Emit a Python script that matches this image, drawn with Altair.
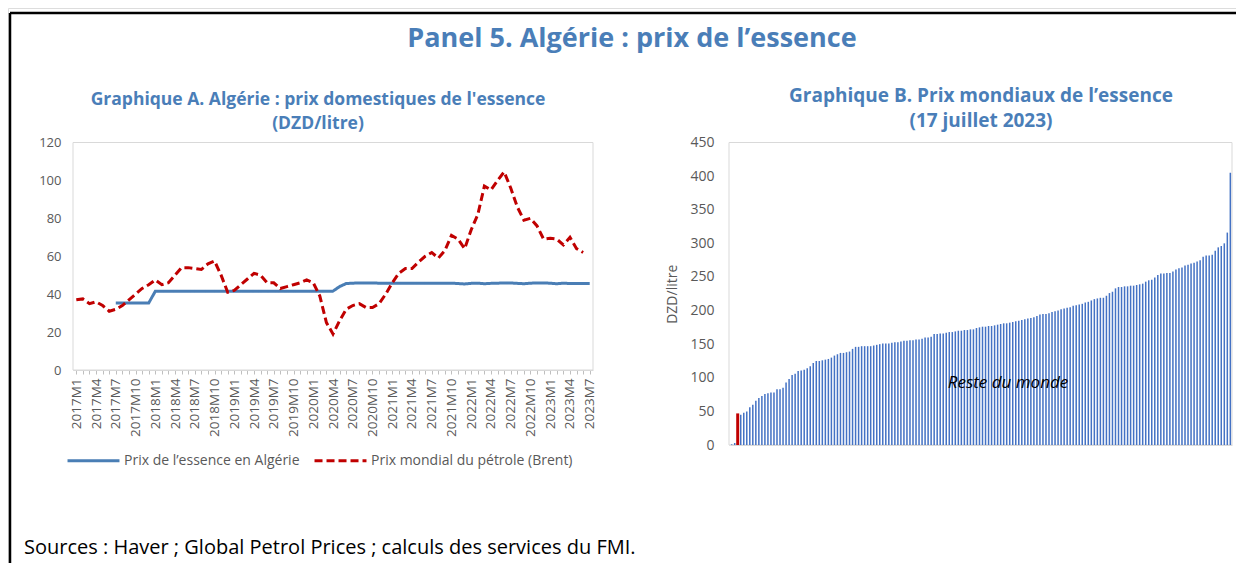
import altair as alt
import pandas as pd

# ---------------- Data ----------------
annees = [2017, 2018, 2019, 2020, 2021, 2022, 2023]
mois = [f"{a}M{m}" for a in annees for m in range(1, 13)][:79]  # 2017M1 .. 2023M7

serie_algerie = "Prix de l’essence en Algérie"
serie_brent = "Prix mondial du pétrole (Brent)"

prix_algerie = [
    None, None, None, None, None, None, 35.3, 35.3, 35.3, 35.3, 35.3, 35.3,
    41.5, 41.5, 41.5, 41.5, 41.5, 41.5, 41.5, 41.5, 41.5, 41.5, 41.5, 41.5,
    41.5, 41.5, 41.5, 41.5, 41.5, 41.5, 41.5, 41.5, 41.5, 41.5, 41.5, 41.5,
    41.5, 41.5, 41.5, 41.6, 44.0, 45.6, 45.8, 45.9, 45.9, 45.9, 45.8, 45.8,
    45.8, 45.8, 45.8, 45.8, 45.8, 45.8, 45.8, 45.8, 45.8, 45.8, 45.6, 45.4,
    45.7, 45.8, 45.5, 45.7, 45.8, 45.9, 45.9, 45.7, 45.5, 45.8, 45.9, 45.9,
    45.8, 45.5, 45.8, 45.6, 45.6, 45.6, 45.6,
]
prix_brent = [
    37, 37.5, 35, 36, 34, 31, 32, 34, 37, 40, 43, 45,
    47.5, 45, 46, 50, 54, 54, 53.5, 53, 56, 57.5, 50, 41,
    42, 45, 48, 51, 50, 46, 46, 43, 44, 45, 46, 47.5,
    46, 39, 25, 19, 26, 32, 34, 35, 33, 33, 35, 40,
    46, 51, 53.5, 53.5, 57, 60, 62, 59, 63, 71, 69, 64,
    74, 82, 97, 95, 100, 104.5, 96, 86, 79, 80, 76, 69,
    69.5, 69, 66, 70, 64, 62, None,
]

# Prix mondiaux de l'essence (DZD/litre), triés ; Algérie en 3e position
prix_monde = [
    1, 3, 47, 45, 48, 50, 56, 60, 66, 70, 73, 76, 77, 78, 78, 83, 83, 85, 93, 98,
    104, 106, 110, 111, 112, 114, 117, 122, 125, 125, 126, 127, 128, 130, 133, 135,
    137, 137, 138, 139, 143, 146, 146, 147, 147, 147, 147, 148, 149, 150, 151, 151,
    151, 152, 153, 153, 154, 155, 155, 156, 156, 157, 157, 158, 160, 160, 161, 165,
    165, 166, 166, 167, 168, 168, 169, 170, 170, 171, 171, 172, 172, 174, 175, 176,
    176, 177, 177, 178, 179, 180, 181, 181, 182, 183, 184, 185, 186, 187, 188, 189,
    190, 192, 194, 195, 195, 196, 198, 199, 200, 202, 203, 204, 205, 207, 208, 209,
    210, 212, 213, 215, 217, 218, 219, 219, 222, 226, 228, 233, 235, 235, 236, 236,
    237, 237, 238, 239, 240, 243, 245, 246, 249, 253, 255, 255, 256, 256, 258, 261,
    263, 264, 267, 268, 270, 271, 273, 275, 280, 282, 282, 283, 289, 294, 296, 300,
    316, 405,
]
rang_algerie = 3

titre_panel = ["Panel 5. Algérie : prix de l’essence"]
titre_a = ["Graphique A. Algérie : prix domestiques de l'essence\n(DZD/litre)"]
titre_b = ["Graphique B. Prix mondiaux de l’essence\n(17 juillet 2023)"]
note_monde = ["Reste du monde"]
sources = ["Sources : Haver ; Global Petrol Prices ; calculs des services du FMI."]
y_ticks_a = [0, 20, 40, 60, 80, 100, 120]
y_ticks_b = [0, 50, 100, 150, 200, 250, 300, 350, 400, 450]

# ---------------- Tables ----------------
df_lignes = pd.DataFrame({
    "mois": mois + mois,
    "serie": [serie_algerie] * len(mois) + [serie_brent] * len(mois),
    "valeur": prix_algerie + prix_brent,
})
df_barres = pd.DataFrame({
    "rang": list(range(1, len(prix_monde) + 1)),
    "valeur": prix_monde,
})
df_barres["groupe"] = ["Algérie" if r == rang_algerie else "Reste du monde" for r in df_barres["rang"]]

W, H = 1228, 555
BLUE_T = "#4a7eb8"
GRAY = "#595959"
FRAME = "#d9d9d9"
FONT = "Open Sans"


def one(txt):
    return pd.DataFrame({"t": txt})


# ---------------- Decorations ----------------
bord_haut = alt.Chart(one([""])).mark_rule(color="black", strokeWidth=2.5).encode(
    x=alt.value(2), x2=alt.value(W), y=alt.value(5))
bord_gauche = alt.Chart(one([""])).mark_rule(color="black", strokeWidth=2.5).encode(
    x=alt.value(2), y=alt.value(5), y2=alt.value(H))

cadre_a = alt.Chart(one([""])).mark_rect(fill="white", stroke=FRAME, strokeWidth=1).encode(
    x=alt.value(65), x2=alt.value(585), y=alt.value(134.5), y2=alt.value(362))
cadre_b = alt.Chart(one([""])).mark_rect(fill="white", stroke=FRAME, strokeWidth=1).encode(
    x=alt.value(721), x2=alt.value(1224), y=alt.value(134.5), y2=alt.value(437))

t_panel = alt.Chart(one(titre_panel)).mark_text(
    font=FONT, fontSize=27, fontWeight="bold", color=BLUE_T, align="center", baseline="alphabetic"
).encode(text="t:N", x=alt.value(624), y=alt.value(39))
t_a = alt.Chart(one(titre_a)).mark_text(
    font=FONT, fontSize=17.5, fontWeight="bold", color=BLUE_T, align="center", baseline="alphabetic",
    lineBreak="\n", lineHeight=24
).encode(text="t:N", x=alt.value(310), y=alt.value(97))
t_b = alt.Chart(one(titre_b)).mark_text(
    font=FONT, fontSize=19, fontWeight="bold", color=BLUE_T, align="center", baseline="alphabetic",
    lineBreak="\n", lineHeight=25
).encode(text="t:N", x=alt.value(973), y=alt.value(94))
t_src = alt.Chart(one(sources)).mark_text(
    font=FONT, fontSize=20, color="black", align="left", baseline="alphabetic"
).encode(text="t:N", x=alt.value(16), y=alt.value(546))

# ---------------- Graphique A ----------------
leg = dict(orient="none", legendX=58, legendY=425, direction="horizontal", title=None,
           symbolType="stroke", symbolSize=2700, symbolStrokeWidth=3, labelLimit=0,
           labelFont=FONT, labelFontSize=14, labelColor=GRAY, columnPadding=8, labelOffset=3)

lignes = alt.Chart(df_lignes).mark_line(strokeWidth=3).encode(
    x=alt.X("mois:O", sort=mois,
            scale=alt.Scale(type="point", range=[65, 585], padding=0.5),
            axis=alt.Axis(orient="bottom", offset=362 - H, title=None, labelAngle=-90,
                          labelExpr="(toNumber(split(datum.value, 'M')[1]) - 1) % 3 == 0 ? datum.value : ''",
                          labelOverlap=False, labelFont=FONT, labelFontSize=13.5, labelColor=GRAY,
                          labelPadding=4, tickSize=4, tickColor="#bfbfbf", domainColor=FRAME)),
    y=alt.Y("valeur:Q",
            scale=alt.Scale(domain=[0, 120], range=[362, 134.5], nice=False),
            axis=alt.Axis(orient="left", offset=-65, values=y_ticks_a, title=None, grid=False,
                          ticks=False, labelFont=FONT, labelFontSize=13, labelColor=GRAY,
                          labelPadding=12, domainColor=FRAME)),
    color=alt.Color("serie:N", scale=alt.Scale(domain=[serie_algerie, serie_brent],
                                               range=["#4a7eb5", "#c00000"]),
                    legend=alt.Legend(**leg)),
    strokeDash=alt.StrokeDash("serie:N", scale=alt.Scale(domain=[serie_algerie, serie_brent],
                                                         range=[[1, 0], [8, 4]]),
                              legend=alt.Legend(**leg)),
)

# ---------------- Graphique B ----------------
base_b = alt.Chart(df_barres).encode(
    x=alt.X("rang:O", scale=alt.Scale(range=[722, 1224], paddingInner=0.5, paddingOuter=0.3),
            axis=alt.Axis(orient="bottom", offset=437 - H, title=None, labels=False, ticks=False,
                          domainColor=FRAME)),
    y=alt.Y("valeur:Q", scale=alt.Scale(domain=[0, 450], range=[437, 134.5], nice=False),
            axis=alt.Axis(orient="left", offset=-721, values=y_ticks_b, title="DZD/litre",
                          titleFont=FONT, titleFontSize=14, titleFontWeight="normal", titleColor=GRAY,
                          titlePadding=10, grid=False, ticks=False, labelFont=FONT, labelFontSize=14,
                          labelColor=GRAY, labelPadding=15, domainColor=FRAME)),
)
barres = base_b.transform_filter(alt.datum.groupe == "Reste du monde").mark_bar(color="#4472c4")
barre_alg = base_b.transform_filter(alt.datum.groupe == "Algérie").mark_bar(color="#c00000", size=3)
note = alt.Chart(one(note_monde)).mark_text(
    font=FONT, fontSize=17, fontStyle="italic", color="black", align="center", baseline="middle"
).encode(text="t:N", x=alt.value(1000), y=alt.value(375))
graph_b = alt.layer(barres, barre_alg, note)

chart = alt.layer(
    bord_haut, bord_gauche, cadre_a, cadre_b, t_panel, t_a, t_b, t_src, lignes, graph_b
).resolve_scale(
    x="independent", y="independent"
).resolve_axis(
    x="independent", y="independent"
).properties(
    width=W, height=H, padding=0, autosize=alt.AutoSizeParams(type="none"), background="white"
).configure_view(stroke="transparent").configure(font=FONT)

chart.save("out.html", embed_options={"renderer": "svg", "actions": False})
